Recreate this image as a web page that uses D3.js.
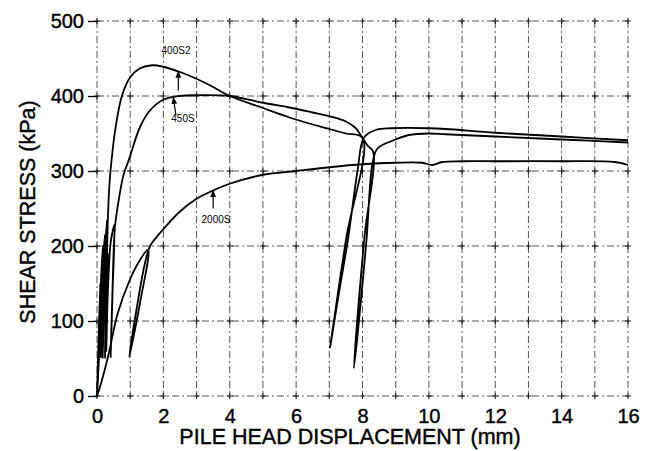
<!DOCTYPE html>
<html>
<head>
<meta charset="utf-8">
<script src="https://cdn.jsdelivr.net/npm/d3@7"></script>
<style>
body { margin: 0; background: #fff; }
text { font-family: "Liberation Sans", Arial, sans-serif; }
</style>
</head>
<body>
<svg id="chart" width="646" height="451"></svg>
<script>
// Data: [displacement mm, shear stress kPa]
var xTicks = [0, 2, 4, 6, 8, 10, 12, 14, 16]
var yTicks = [0, 100, 200, 300, 400, 500]
var xGrid = d3.range(0, 17, 1)

var test400S2 = [[0,0],[0.03,50],[0.07,110],[0.1,150],[0.06,80],[0.04,48],[0.08,100],[0.13,165],
  [0.18,200],[0.14,120],[0.11,52],[0.15,120],[0.2,190],[0.24,215],[0.2,130],[0.17,50],[0.21,120],
  [0.27,210],[0.3,235],[0.27,150],[0.24,51],[0.28,140],[0.33,240],[0.38,285],[0.44,315],[0.55,355],
  [0.75,400],[1.0,425],[1.3,437],[1.67,441],[2,439],[2.5,432],[3,423],[3.5,412],[4,400],[5,384],
  [5.76,372],[6.5,362],[7,356],[7.5,350],[8.0,344],[7.5,208],[7.02,64],[7.3,140],[7.56,208],
  [7.85,300],[8.05,345],[8.42,355],[8.88,357],[10,357],[10.5,356],[12,351],[14,346],[16,341]]

var test450S = [[0,0],[0.06,50],[0.12,100],[0.2,150],[0.16,100],[0.13,55],[0.18,110],[0.25,165],
  [0.33,190],[0.3,120],[0.28,60],[0.32,130],[0.4,200],[0.45,215],[0.52,228],[0.47,140],[0.41,51],
  [0.46,130],[0.54,225],[0.65,260],[0.8,295],[0.96,315],[1.3,359],[1.6,381],[2,395],[2.5,400],
  [3,401],[4,400],[5,391],[5.76,385],[6.5,378],[7,373],[7.5,366],[7.8,357],[8.0,344],[8.15,334],
  [8.32,326],[8.05,208],[7.74,37],[7.85,80],[8.12,208],[8.3,310],[8.45,330],[8.88,340],[9.4,348],
  [10,350],[10.5,349],[12,346],[14,342],[16,338]]

var test2000S = [[0,0],[0.09,12],[0.33,52],[0.63,111],[0.99,155],[1.25,178],[1.54,195],[1.3,125],
  [0.97,52],[1.2,118],[1.45,178],[1.6,200],[2.05,225],[2.5,246],[3,263],[3.5,274],[4,283],[5,295],
  [6,300],[7,305],[8,309],[9,311],[9.8,311],[10.1,308],[10.4,312],[11,313],[12,313],[14,313],
  [15.6,312],[16,308]]

var curveLabels = [
  {name: '400S2', tx: 176, ty: 54, at: [2.45, 433], from: [2.45, 407]},
  {name: '450S', tx: 183, ty: 122, at: [2.3, 398], from: [2.38, 374]},
  {name: '2000S', tx: 216, ty: 223, at: [3.5, 274], from: [3.5, 250]}
]

var svg = d3.select('#chart')

var x = d3.scaleLinear().domain([0, 16]).range([97, 628])
var y = d3.scaleLinear().domain([0, 500]).range([396, 21])

// Grid paper (dash-dot)
var grid = svg.append('g').attr('stroke', '#555').attr('stroke-width', 1)
  .attr('stroke-dasharray', '7,3,2,3')

grid.selectAll('.vline').data(xGrid).enter().append('line')
  .attr('x1', function(d){ return x(d) }).attr('x2', function(d){ return x(d) })
  .attr('y1', y(500)).attr('y2', y(0))

grid.selectAll('.hline').data(yTicks).enter().append('line')
  .attr('x1', x(0)).attr('x2', x(16))
  .attr('y1', function(d){ return y(d) }).attr('y2', function(d){ return y(d) })

// little crosses at grid intersections
var crosses = []
xGrid.forEach(function(a){ yTicks.forEach(function(b){ crosses.push([a, b]) }) })
svg.append('g').selectAll('path').data(crosses).enter().append('path')
  .attr('d', function(d){
    var cx = x(d[0]), cy = y(d[1])
    return 'M' + (cx-3) + ',' + cy + 'H' + (cx+3) + 'M' + cx + ',' + (cy-3) + 'V' + (cy+3)
  })
  .attr('stroke', '#222').attr('stroke-width', 1.2)

// Axes
var yAxis = d3.axisLeft(y).tickValues(yTicks).tickSize(9).tickPadding(4)
var gy = svg.append('g').attr('transform', 'translate(' + x(0) + ',0)').call(yAxis)
gy.select('.domain').remove()
gy.selectAll('text').attr('font-size', 20).attr('fill', '#000')
  .attr('stroke', '#000').attr('stroke-width', 0.4)
  .attr('font-family', '"Liberation Sans", Arial, sans-serif')
gy.selectAll('line').attr('stroke', '#000').attr('stroke-width', 1.3)

var xAxis = d3.axisBottom(x).tickValues(xTicks).tickSize(0).tickPadding(13)
var gx = svg.append('g').attr('transform', 'translate(0,' + y(0) + ')').call(xAxis)
gx.select('.domain').remove()
gx.selectAll('text').attr('font-size', 20).attr('fill', '#000')
  .attr('stroke', '#000').attr('stroke-width', 0.4)
  .attr('font-family', '"Liberation Sans", Arial, sans-serif')

svg.append('text').attr('x', 350).attr('y', 444).attr('text-anchor', 'middle')
  .attr('font-size', 21.5).attr('stroke', '#000').attr('stroke-width', 0.4)
  .text('PILE HEAD DISPLACEMENT (mm)')

svg.append('text').attr('transform', 'translate(35,212) rotate(-90)')
  .attr('text-anchor', 'middle').attr('font-size', 21.5)
  .attr('stroke', '#000').attr('stroke-width', 0.4)
  .text('SHEAR STRESS (kPa)')

// Curves
var line = d3.line()
  .x(function(d){ return x(d[0]) })
  .y(function(d){ return y(d[1]) })
  .curve(d3.curveCatmullRom.alpha(0.5))

svg.append('g').selectAll('path').data([test400S2, test450S, test2000S]).enter().append('path')
  .attr('d', line)
  .attr('fill', 'none').attr('stroke', '#000').attr('stroke-width', 1.8)

// Curve labels with arrows
svg.append('defs').append('marker').attr('id', 'arrow')
  .attr('viewBox', '0 0 10 10').attr('refX', 9).attr('refY', 5)
  .attr('markerWidth', 6).attr('markerHeight', 6).attr('orient', 'auto')
  .append('path').attr('d', 'M0,1L10,5L0,9z').attr('fill', '#000')

curveLabels.forEach(function(c){
  svg.append('line')
    .attr('x1', x(c.from[0])).attr('y1', y(c.from[1]))
    .attr('x2', x(c.at[0])).attr('y2', y(c.at[1]))
    .attr('stroke', '#000').attr('stroke-width', 1.2).attr('marker-end', 'url(#arrow)')
  svg.append('text').attr('x', c.tx).attr('y', c.ty).attr('text-anchor', 'middle')
    .attr('font-size', 10).attr('font-family', '"Liberation Serif", serif').text(c.name)
})
</script>
</body>
</html>
